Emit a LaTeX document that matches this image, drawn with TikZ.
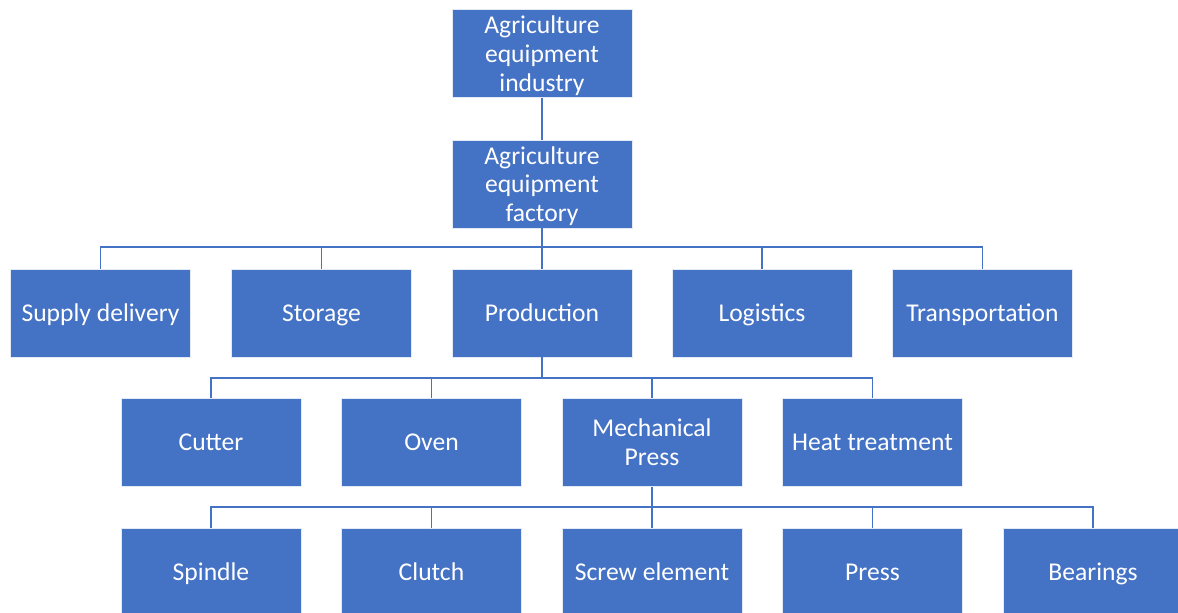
\documentclass[tikz,border=0pt]{standalone}
\usepackage{fontspec}
\setmainfont{Carlito}
\definecolor{boxblue}{HTML}{4472C4}
\begin{document}
\begin{tikzpicture}[x=1pt,y=-1pt,
  box/.style={fill=boxblue,draw=white!85!boxblue,line width=0.8pt,minimum width=180pt,minimum height=88pt,inner sep=0pt,text=white,align=center,font=\fontsize{25.6pt}{28.7pt}\selectfont},
  onebox/.style={box,text height=20pt,text depth=4pt},
  conn/.style={draw=boxblue,line width=1.5pt}]
\useasboundingbox (0,0) rectangle (1178,613);
\clip (0,0) rectangle (1178,613);
\node[box] (ind) at (542,53.5) {\rule{0pt}{22pt}Agriculture\\equipment\\industry};
\node[box] (fac) at (542,184) {\rule{0pt}{22pt}Agriculture\\equipment\\factory};
\node[onebox] (sup) at (100.5,313) {Supply delivery};
\node[onebox] (sto) at (321.5,313) {Storage};
\node[onebox] (prod) at (542,313) {Production};
\node[onebox] (log) at (762,313) {Logistics};
\node[onebox] (tra) at (982.5,313) {Transportation};
\node[onebox] (cut) at (211,442.5) {Cutter};
\node[onebox] (ove) at (431.5,442.5) {Oven};
\node[box] (mp) at (652,442.5) {Mechanical\\Press};
\node[onebox] (heat) at (872.5,442.5) {Heat treatment};
\node[onebox] (spi) at (211,572.5) {Spindle};
\node[onebox] (clu) at (431.5,572.5) {Clutch};
\node[onebox] (scr) at (652,572.5) {Screw element};
\node[onebox] (pre) at (872.5,572.5) {Press};
\node[onebox] (bea) at (1093,572.5) {Bearings};
\coordinate (b1) at (542,247);
\coordinate (b2) at (542,378);
\coordinate (b3) at (652,507);
\draw[conn] (ind.south) -- (fac.north);
\draw[conn] (fac.south) -- (prod.north);
\foreach \n in {sup,sto,log,tra} \draw[conn] (\n.north) |- (b1);
\draw[conn] (prod.south) -- (b2);
\foreach \n in {cut,ove,mp,heat} \draw[conn] (\n.north) |- (b2);
\draw[conn] (mp.south) -- (scr.north);
\foreach \n in {spi,clu,pre,bea} \draw[conn] (\n.north) |- (b3);
\end{tikzpicture}
\end{document}
